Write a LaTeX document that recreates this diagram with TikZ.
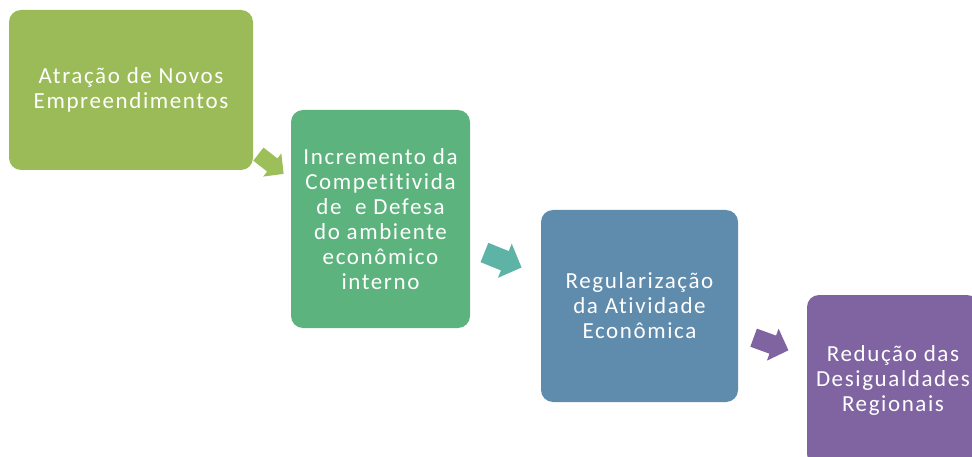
\documentclass[tikz,border=0pt]{standalone}
\usepackage{fontspec}
\setmainfont{Carlito}[LetterSpace=7,Ligatures=NoCommon]
\definecolor{cA}{HTML}{9BBB59}
\definecolor{cB}{HTML}{5DB37D}
\definecolor{cC}{HTML}{5F8BAD}
\definecolor{cD}{HTML}{8064A2}
\definecolor{aA}{HTML}{9DBF5A}
\definecolor{aB}{HTML}{5DB3A5}
\definecolor{aD}{HTML}{8064A2}
\tikzset{
  stepbox/.style={rounded corners=12pt, inner sep=0pt, text=white, align=center,
    font=\fontsize{23}{25}\selectfont},
  blockarrow/.pic={
    \fill[pic actions] (-0.5,-0.26) -- (0.05,-0.26) -- (0.05,-0.46) -- (0.5,0) -- (0.05,0.46) -- (0.05,0.26) -- (-0.5,0.26) -- cycle;
  }
}
\begin{document}
\begin{tikzpicture}[x=1pt,y=-1pt]
\useasboundingbox (0,0) rectangle (972,457);
\fill[white] (0,0) rectangle (972,457);
\fill[cA, rounded corners=12pt] (9,10) rectangle (253,170);
\node[stepbox] (a) at (131,90) {Atração de Novos\\Empreendimentos};
\fill[cB, rounded corners=12pt] (291,110) rectangle (470,328);
\node[stepbox] (b) at (380.5,219) {Incremento da\\Competitivida\\de\ \ e Defesa\\do ambiente\\econômico\\interno};
\fill[cC, rounded corners=12pt] (541,210) rectangle (738,402);
\node[stepbox] (c) at (639.5,306) {Regularização\\da Atividade\\Econômica};
\fill[cD, rounded corners=12pt] (807,295) rectangle (979,466);
\node[stepbox] (d) at (893,380) {Redução das\\Desigualdades\\Regionais};
\pic[fill=aA, rotate=-38, scale=32] at (271,164) {blockarrow};
\pic[fill=aB, rotate=-22, scale=40] at (503,260) {blockarrow};
\pic[fill=aD, rotate=-20, scale=37] at (771,344) {blockarrow};
\end{tikzpicture}
\end{document}
